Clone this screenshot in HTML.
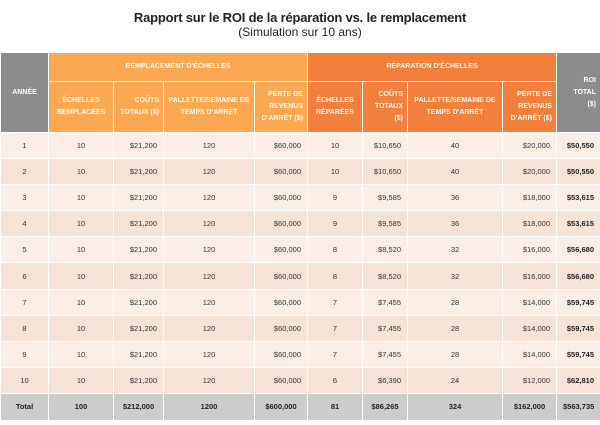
<!DOCTYPE html>
<html><head><meta charset="utf-8">
<style>
body{margin:0;width:600px;height:425px;background:#fff;font-family:"Liberation Sans",sans-serif;overflow:hidden;position:relative}
.t1{position:absolute;top:10px;left:0;width:600px;text-align:center;font-size:13px;color:#222;font-weight:bold;letter-spacing:-0.2px}
.t2{position:absolute;top:25px;left:0;width:600px;text-align:center;font-size:12px;color:#222}
table{position:absolute;top:52px;left:0;width:600px;border-collapse:collapse;table-layout:fixed;font-size:7.5px;color:#333}
td,th{border:1.5px solid #fff;padding:0 6px;overflow:hidden}
th{color:#fff;font-weight:bold;font-size:7px;line-height:12px;padding:0 4px}
.g{background:#8c8c8c}.o1{background:#fba852}.o2{background:#f0803c}
tr.d td{height:25.1px}
tr.d:nth-child(odd) td{background:#faeee6}
tr.d:nth-child(even) td{background:#f5e3d8}
.c{text-align:center}.r{text-align:right}.b{font-weight:bold;color:#222}
tr.tot td{background:#cccccc;font-weight:bold;text-align:center;height:26px;color:#222}
</style></head><body>
<div class="t1">Rapport sur le ROI de la réparation vs. le remplacement</div>
<div class="t2">(Simulation sur 10 ans)</div>
<table>
<colgroup><col style="width:48px"><col style="width:65px"><col style="width:50px"><col style="width:91px"><col style="width:53px"><col style="width:55px"><col style="width:45px"><col style="width:95px"><col style="width:54px"><col style="width:44px"></colgroup>
<tr style="height:29px">
<th class="g" rowspan="2">ANNÉE</th>
<th class="o1" colspan="4">REMPLACEMENT D'ÉCHELLES</th>
<th class="o2" colspan="4">RÉPARATION D'ÉCHELLES</th>
<th class="g r" rowspan="2">ROI<br>TOTAL<br>($)</th>
</tr>
<tr style="height:51px">
<th class="o1 c">ÉCHELLES REMPLACÉES</th>
<th class="o1 r">COÛTS TOTAUX ($)</th>
<th class="o1 c">PALLETTE/SEMAINE DE TEMPS D'ARRÊT</th>
<th class="o1 r">PERTE DE REVENUS D'ARRÊT ($)</th>
<th class="o2 c">ÉCHELLES RÉPARÉES</th>
<th class="o2 r">COÛTS TOTAUX ($)</th>
<th class="o2 c">PALLETTE/SEMAINE DE TEMPS D'ARRÊT</th>
<th class="o2 r">PERTE DE REVENUS D'ARRÊT ($)</th>
</tr>
<tbody id="body"></tbody>
</table>
<script>
const years=[1,2,3,4,5,6,7,8,9,10];
const replaced=[10,10,10,10,10,10,10,10,10,10];
const replCost=["$21,200","$21,200","$21,200","$21,200","$21,200","$21,200","$21,200","$21,200","$21,200","$21,200"];
const replPallet=[120,120,120,120,120,120,120,120,120,120];
const replLoss=["$60,000","$60,000","$60,000","$60,000","$60,000","$60,000","$60,000","$60,000","$60,000","$60,000"];
const repaired=[10,10,9,9,8,8,7,7,7,6];
const repCost=["$10,650","$10,650","$9,585","$9,585","$8,520","$8,520","$7,455","$7,455","$7,455","$6,390"];
const repPallet=[40,40,36,36,32,32,28,28,28,24];
const repLoss=["$20,000","$20,000","$18,000","$18,000","$16,000","$16,000","$14,000","$14,000","$14,000","$12,000"];
const roi=["$50,550","$50,550","$53,615","$53,615","$56,680","$56,680","$59,745","$59,745","$59,745","$62,810"];
const totals=["Total","100","$212,000","1200","$600,000","81","$86,265","324","$162,000","$563,735"];
const aligns=["c","c","r","c","r","c","r","c","r","r b"];
const body=document.getElementById('body');
for(let i=0;i<years.length;i++){
  const tr=document.createElement('tr');tr.className='d';
  
  
  const vals=[years[i],replaced[i],replCost[i],replPallet[i],replLoss[i],repaired[i],repCost[i],repPallet[i],repLoss[i],roi[i]];
  vals.forEach((v,j)=>{const td=document.createElement('td');td.className=aligns[j];td.textContent=v;
    
    
    tr.appendChild(td);});
  body.appendChild(tr);
}
const tr=document.createElement('tr');tr.className='tot';


totals.forEach(v=>{const td=document.createElement('td');td.textContent=v;
  
  
  tr.appendChild(td);});
body.appendChild(tr);
</script>
</body></html>
